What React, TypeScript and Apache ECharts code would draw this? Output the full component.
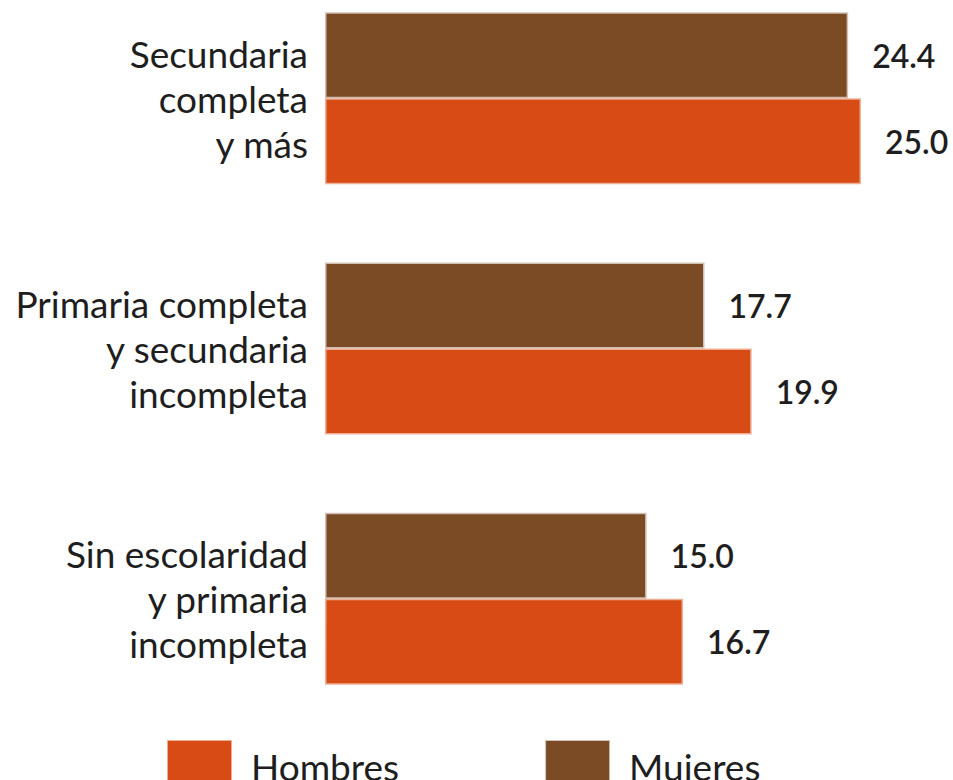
import React, { useEffect, useRef } from "react";
import * as echarts from "echarts";

const categories = [
  "Secundaria\ncompleta\ny más",
  "Primaria completa\ny secundaria\nincompleta",
  "Sin escolaridad\ny primaria\nincompleta",
];
const mujeres = [24.4, 17.7, 15.0];
const hombres = [25.0, 19.9, 16.7];
const legendNames = ["Hombres", "Mujeres"];

const BROWN = "#7b4b26";
const ORANGE = "#d84b14";
const FONT = "Lato";
const SHIFT = 27;

export default function App() {
  const ref = useRef<HTMLDivElement>(null);
  useEffect(() => {
    if (!ref.current) return;
    const chart = echarts.init(ref.current, null, { renderer: "svg" });
    const label = {
      show: true,
      position: "right",
      distance: 24,
      fontFamily: FONT,
      fontSize: 32,
      fontWeight: 600,
      color: "#1e1e1e",
      formatter: (p: any) => Number(p.value).toFixed(1),
    };
    chart.setOption({
      animation: false,
      backgroundColor: "#ffffff",
      grid: { left: 325, right: 92, top: 0, bottom: 56, containLabel: false },
      legend: {
        data: legendNames,
        left: 162,
        top: 735 + SHIFT,
        itemWidth: 63,
        itemHeight: 50,
        itemGap: 146,
        icon: "rect",
        textStyle: {
          fontFamily: FONT,
          fontSize: 37,
          color: "#1e1e1e",
          padding: [0, 0, 0, 15],
        },
      },
      xAxis: { type: "value", min: 0, max: 25, show: false },
      yAxis: {
        type: "category",
        data: categories,
        inverse: true,
        axisLine: { show: false },
        axisTick: { show: false },
        axisLabel: {
          margin: 17,
          fontFamily: FONT,
          fontSize: 37,
          lineHeight: 45,
          color: "#1e1e1e",
          align: "right",
        },
      },
      series: [
        {
          name: "Mujeres",
          type: "bar",
          data: mujeres,
          barWidth: 86,
          barGap: "0%",
          itemStyle: { color: BROWN, borderColor: "rgba(123,75,38,0.35)", borderWidth: 3 },
          label,
        },
        {
          name: "Hombres",
          type: "bar",
          data: hombres,
          barWidth: 86,
          barGap: "0%",
          itemStyle: { color: ORANGE, borderColor: "rgba(216,75,20,0.45)", borderWidth: 3 },
          label,
        },
      ],
    });
    return () => chart.dispose();
  }, []);
  return (
    <div style={{ position: "fixed", left: 0, top: 0, width: 953, height: 780, overflow: "hidden" }}>
      <div
        ref={ref}
        style={{ position: "absolute", left: 0, top: -SHIFT, width: 953, height: 780 + SHIFT }}
      />
    </div>
  );
}
